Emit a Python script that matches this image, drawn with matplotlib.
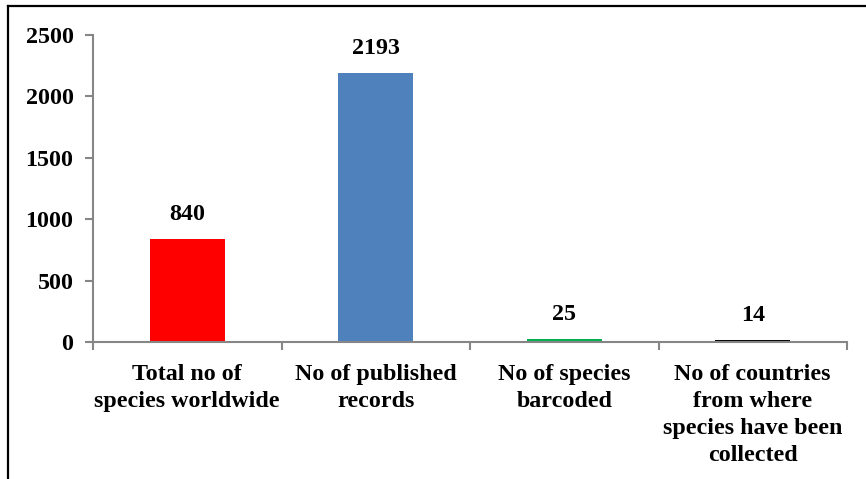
import matplotlib
matplotlib.use("Agg")
import matplotlib.pyplot as plt
from matplotlib.lines import Line2D

categories = [
    "Total no of\nspecies worldwide",
    "No of published\nrecords",
    "No of species\nbarcoded",
    "No of countries\nfrom where\nspecies have been\ncollected",
]
values = [840, 2193, 25, 14]
bar_colors = ["#FF0000", "#4F81BD", "#00B050", "#000000"]
y_ticks = [0, 500, 1000, 1500, 2000, 2500]

plt.rcParams["font.family"] = ["Liberation Serif", "DejaVu Serif"]
plt.rcParams["font.weight"] = "bold"

FS = 17.3
W, H = 866, 479
fig = plt.figure(figsize=(W / 100, H / 100), dpi=100)
ax = fig.add_axes([93 / W, 1 - 342 / H, (847 - 93) / W, (342 - 35) / H])

x = list(range(len(categories)))
ax.bar(x, values, width=0.40, color=bar_colors, zorder=2)

for xi, v in zip(x, values):
    ax.annotate(f"{v}", (xi, v), xytext=(0, 10), textcoords="offset points",
                ha="center", va="bottom", fontsize=FS, fontweight="bold")

ax.set_xlim(-0.5, len(categories) - 0.5)
ax.set_ylim(0, 2500)
ax.set_yticks(y_ticks)
ax.set_yticklabels([str(t) for t in y_ticks], fontsize=FS, fontweight="bold")

ax.set_xticks(x)
ax.set_xticklabels(categories, fontsize=FS, fontweight="bold", linespacing=1.36)
ax.tick_params(axis="x", which="major", length=0, pad=16)
ax.set_xticks([i - 0.5 for i in range(len(categories) + 1)], minor=True)
ax.tick_params(axis="x", which="minor", length=6, width=1.5, color="#868686", direction="out")
ax.tick_params(axis="y", length=6, width=1.5, color="#868686", direction="out", pad=8)

for s in ["top", "right"]:
    ax.spines[s].set_visible(False)
for s in ["left", "bottom"]:
    ax.spines[s].set_color("#868686")
    ax.spines[s].set_linewidth(1.5)

# outer frame (top and left edges)
fig.add_artist(Line2D([8 / W, 1.0], [1 - 6 / H, 1 - 6 / H], color="black", lw=1.6, transform=fig.transFigure))
fig.add_artist(Line2D([8 / W, 8 / W], [0, 1 - 6 / H], color="black", lw=1.6, transform=fig.transFigure))

fig.savefig("out.png", dpi=100, facecolor="white")
